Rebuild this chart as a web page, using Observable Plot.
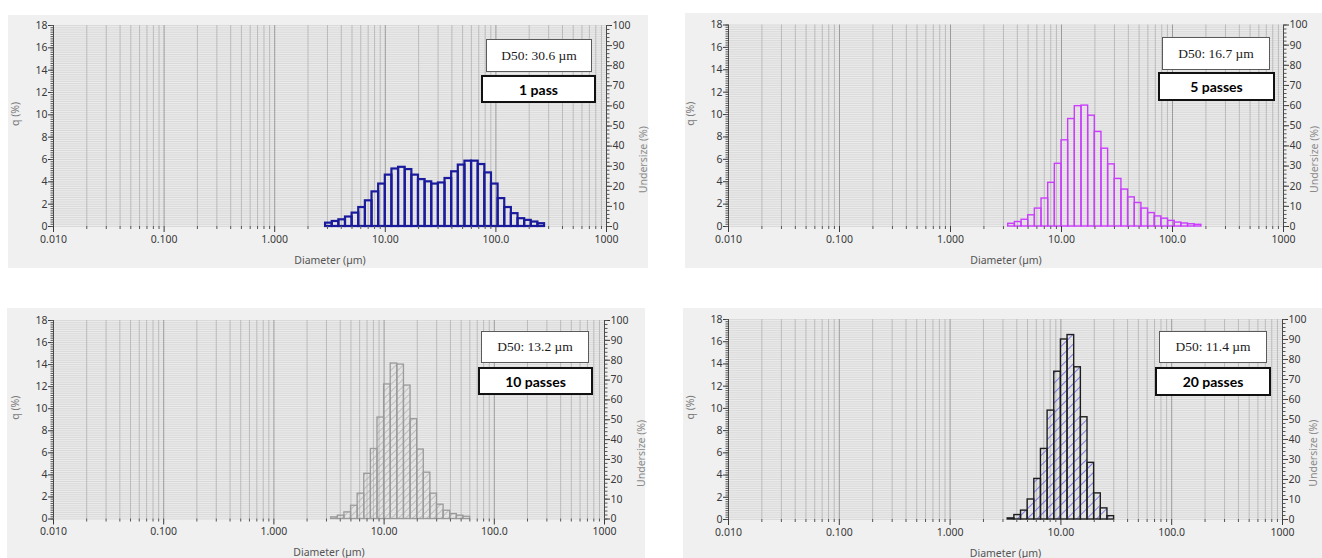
<!DOCTYPE html>
<html><head><meta charset="utf-8">
<script src="https://cdn.jsdelivr.net/npm/d3@7"></script>
<script src="https://cdn.jsdelivr.net/npm/@observablehq/plot@0.6"></script>
<style>
body{margin:0;background:#fff;}
#root{position:relative;width:1322px;height:558px;overflow:hidden;background:#fff;}
.panel{position:absolute;background:#f0f0f0;}
.panel svg{position:absolute;left:0;top:0;overflow:visible;}
.d50{position:absolute;background:#fff;border:1.5px solid #5a5a5a;box-sizing:border-box;font-family:"Liberation Serif","DejaVu Serif",serif;font-size:13.5px;color:#1a1a1a;display:flex;align-items:center;justify-content:center;}
.pass{position:absolute;background:#fff;border:2px solid #111;box-sizing:border-box;font-family:Lato,"Open Sans",sans-serif;font-weight:700;font-size:14px;color:#000;display:flex;align-items:center;justify-content:center;}
</style>
</head><body>
<div id="root"></div>
<script>
// Laser-diffraction size classes (µm), bin edges
const diameterEdges = [2.884, 3.311, 3.802, 4.365, 5.012, 5.754, 6.607, 7.586, 8.710, 10.00, 11.48, 13.18, 15.14, 17.38, 19.95, 22.91, 26.30, 30.20, 34.67, 39.81, 45.71, 52.48, 60.26, 69.18, 79.43, 91.20, 104.7, 120.2, 138.0, 158.5, 182.0, 208.9, 239.9, 275.4];
// q (%) per class
const qPass1  = [0.3, 0.45, 0.6, 0.85, 1.2, 1.7, 2.3, 3.1, 3.8, 4.6, 5.15, 5.3, 5.1, 4.6, 4.2, 4.0, 3.8, 3.9, 4.3, 4.9, 5.5, 5.85, 5.85, 5.55, 4.8, 3.8, 2.5, 1.7, 1.15, 0.7, 0.55, 0.4, 0.25];
const qPass5  = [0.24, 0.4, 0.6, 1.0, 1.6, 2.5, 3.9, 5.6, 7.7, 9.6, 10.75, 10.8, 9.9, 8.45, 6.95, 5.55, 4.25, 3.3, 2.6, 2.1, 1.6, 1.2, 0.9, 0.7, 0.5, 0.35, 0.27, 0.2, 0.15];
const qPass10 = [0.15, 0.3, 0.6, 1.2, 2.3, 4.1, 6.35, 9.2, 12.2, 14.1, 14.0, 12.1, 9.05, 6.3, 4.2, 2.3, 1.3, 0.75, 0.45, 0.3, 0.2];
const qPass20 = [0.1, 0.4, 0.8, 1.8, 3.65, 6.35, 9.8, 13.3, 16.2, 16.6, 13.7, 9.2, 5.1, 2.35, 1.0, 0.3];
const firstClass = [0, 1, 1, 1];
const passLabels = ["1 pass", "5 passes", "10 passes", "20 passes"];
const d50Labels = ["D50: 30.6 µm", "D50: 16.7 µm", "D50: 13.2 µm", "D50: 11.4 µm"];
const xTickValues = [0.01, 0.1, 1, 10, 100, 1000];
const xTickLabels = ["0.010", "0.100", "1.000", "10.00", "100.0", "1000"];
const qTicks = [0, 2, 4, 6, 8, 10, 12, 14, 16, 18];
const undersizeTicks = [0, 10, 20, 30, 40, 50, 60, 70, 80, 90, 100];
const xTitle = "Diameter (µm)", yTitle = "q (%)", y2Title = "Undersize (%)";

const series = [qPass1, qPass5, qPass10, qPass20];

const panels = [
  {left: 8,   top: 15,  w: 640, h: 253, ml: 45, mr: 42, mt: 10,  mb: 42, y2dx: 37,
   fill: "none", stroke: "#1a1a9c", sw: 2.2,
   d50: [486, 39, 106, 33], pass: [481, 75, 115, 28]},
  {left: 685, top: 13,  w: 637, h: 255, ml: 43, mr: 39, mt: 11.5, mb: 42, y2dx: 31,
   fill: "none", stroke: "#cc3cff", sw: 1.4,
   d50: [1162, 37, 108, 33], pass: [1158, 72, 117, 29]},
  {left: 7,   top: 308, w: 638, h: 250, ml: 46, mr: 41, mt: 12,  mb: 39.5, y2dx: 37,
   fill: "url(#hatch3)", stroke: "#9a9a9a", sw: 1.3, hatch: {id: "hatch3", color: "#9c9c9c", size: 5, width: 1},
   d50: [481, 331, 108, 32], pass: [478, 367, 115, 28]},
  {left: 683, top: 308, w: 639, h: 250, ml: 45, mr: 40, mt: 11,  mb: 39, y2dx: 31,
   fill: "url(#hatch4)", stroke: "#1e1e1e", sw: 1.4, hatch: {id: "hatch4", color: "#4646e6", size: 7, width: 1.3},
   d50: [1159, 331, 108, 32], pass: [1155, 367, 116, 29]}
];

const labelMap = new Map(xTickValues.map((v, i) => [v, xTickLabels[i]]));
const minorX = [];
for (const d of xTickValues.slice(0, -1)) for (let m = 2; m <= 9; m++) minorX.push(d * m);
const hGrid = d3.range(0, 18.001, 0.2);
const undersizeY = undersizeTicks.map(u => u * 18 / 100);
const undersizeMinorY = d3.range(0, 100.001, 2).map(u => u * 18 / 100);

const root = document.getElementById("root");

panels.forEach((p, k) => {
  const div = document.createElement("div");
  div.className = "panel";
  Object.assign(div.style, {left: p.left + "px", top: p.top + "px", width: p.w + "px", height: p.h + "px"});
  root.appendChild(div);

  const vals = series[k];
  const start = firstClass[k];
  const bins = vals.map((q, i) => ({x1: diameterEdges[start + i], x2: diameterEdges[start + i + 1], q}));

  const svg = Plot.plot({
    width: p.w, height: p.h,
    marginLeft: p.ml, marginRight: p.mr, marginTop: p.mt, marginBottom: p.mb,
    x: {type: "log", domain: [0.01, 1000]},
    y: {domain: [0, 18]},
    style: {background: "transparent", fontFamily: "'Noto Sans', 'Open Sans', sans-serif", fontSize: "10.5px", color: "#3a3a3a", overflow: "visible"},
    marks: [
      Plot.frame({fill: "#ebebeb", stroke: "none"}),
      Plot.ruleY(hGrid, {stroke: "#d4d4d4", strokeWidth: 0.8}),
      Plot.ruleX(minorX, {stroke: "#bbbbbb", strokeWidth: 1}),
      Plot.ruleX(xTickValues, {stroke: "#9c9c9c", strokeWidth: 1}),
      Plot.rectY(bins, {x1: "x1", x2: "x2", y: "q", fill: p.fill, stroke: p.stroke, strokeWidth: p.sw, inset: 0}),
      Plot.ruleX([0.01], {stroke: "#4a4a4a", strokeWidth: 1}),
      Plot.ruleX([1000], {stroke: "#4a4a4a", strokeWidth: 1}),
      Plot.axisY(qTicks, {anchor: "left", tickSize: 5, tickPadding: 1, label: null}),
      Plot.axisY(hGrid, {anchor: "left", tickSize: 2.5, fill: "none", stroke: "#555", label: null}),
      Plot.axisY(undersizeY, {anchor: "right", tickSize: 5, tickPadding: 1, tickFormat: d => String(Math.round(d * 100 / 18)), label: null}),
      Plot.axisY(undersizeMinorY, {anchor: "right", tickSize: 2.5, fill: "none", stroke: "#555", label: null}),
      Plot.axisX(xTickValues, {anchor: "bottom", tickSize: 6, tickPadding: 3, tickFormat: d => labelMap.get(d), label: null}),
      Plot.axisX(minorX, {anchor: "bottom", tickSize: 3, fill: "none", stroke: "#555", label: null}),
      Plot.text([yTitle], {text: d => d, frameAnchor: "left", dx: -38, rotate: -90, fill: "#7a7a7a", fontSize: 10.5}),
      Plot.text([y2Title], {text: d => d, frameAnchor: "right", dx: p.y2dx, rotate: -90, fill: "#8a8a8a", fontSize: 10.5}),
      Plot.text([xTitle], {text: d => d, frameAnchor: "bottom", dy: 37, fill: "#555", fontSize: 10.5})
    ]
  });

  if (p.hatch) {
    const h = p.hatch;
    const defs = d3.select(svg).insert("defs", ":first-child");
    const pat = defs.append("pattern").attr("id", h.id).attr("patternUnits", "userSpaceOnUse")
      .attr("width", h.size).attr("height", h.size).attr("patternTransform", "rotate(45)");
    pat.append("line").attr("x1", 0).attr("y1", 0).attr("x2", 0).attr("y2", h.size)
      .attr("stroke", h.color).attr("stroke-width", h.width);
  }
  div.appendChild(svg);

  const b1 = document.createElement("div");
  b1.className = "d50";
  b1.textContent = d50Labels[k];
  Object.assign(b1.style, {left: (p.d50[0] - p.left) + "px", top: (p.d50[1] - p.top) + "px", width: p.d50[2] + "px", height: p.d50[3] + "px"});
  div.appendChild(b1);

  const b2 = document.createElement("div");
  b2.className = "pass";
  b2.textContent = passLabels[k];
  Object.assign(b2.style, {left: (p.pass[0] - p.left) + "px", top: (p.pass[1] - p.top) + "px", width: p.pass[2] + "px", height: p.pass[3] + "px"});
  div.appendChild(b2);
});
</script>
</body></html>
